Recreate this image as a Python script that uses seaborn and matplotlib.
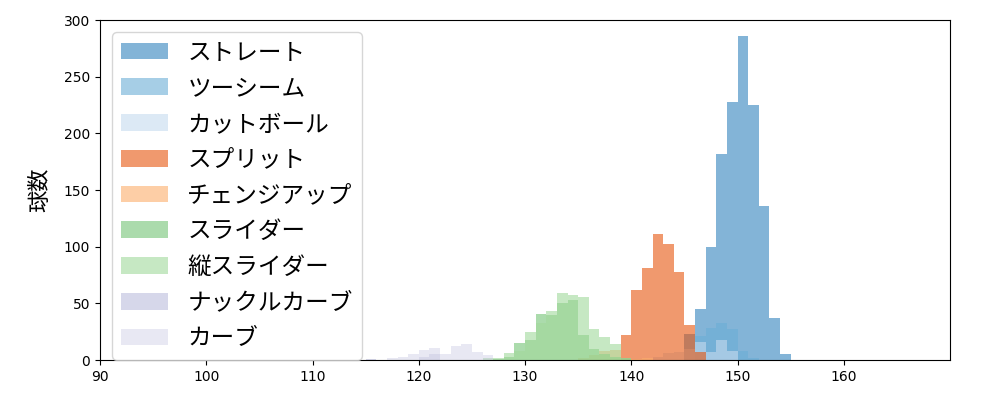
import numpy as np
import pandas as pd
import matplotlib
matplotlib.use("Agg")
import matplotlib.pyplot as plt
import seaborn as sns
from matplotlib.patches import Patch

# ---- data (bin start km/h -> count, bins are 1 km/h wide) ----
pitch_names = ["ストレート", "ツーシーム", "カットボール", "スプリット", "チェンジアップ",
               "スライダー", "縦スライダー", "ナックルカーブ", "カーブ"]
pitch_colors = ["#3182bd", "#6baed6", "#c6dbef", "#e6550d", "#fdae6b",
                "#74c476", "#a1d99b", "#bcbddc", "#dadaeb"]

straight_speed = [145, 146, 147, 148, 149, 150, 151, 152, 153, 154]
straight_count = [23, 45, 100, 182, 228, 286, 225, 136, 37, 5]

twoseam_speed = [146, 147, 148, 149, 150, 151]
twoseam_count = [21, 28, 33, 27, 8, 2]

cutter_speed = [142, 143, 144, 145, 146, 147, 148, 149]
cutter_count = [3, 6, 7, 10, 16, 7, 18, 8]

split_speed = [139, 140, 141, 142, 143, 144, 145, 146]
split_count = [22, 62, 81, 111, 102, 78, 31, 7]

change_speed = [135, 136, 137, 138, 139, 140, 141]
change_count = [2, 4, 8, 9, 1, 1, 2]

slider_speed = [126, 127, 128, 129, 130, 131, 132, 133, 134, 135, 136, 137, 138, 139]
slider_count = [2, 1, 3, 15, 18, 41, 40, 50, 53, 22, 10, 5, 3, 2]

vslider_speed = [127, 128, 129, 130, 131, 132, 133, 134, 135, 136, 137, 138, 139]
vslider_count = [2, 6, 8, 25, 33, 43, 59, 57, 56, 27, 20, 14, 2]

kcurve_speed = [115, 120, 121]
kcurve_count = [1, 3, 5]

curve_speed = [117, 118, 119, 120, 121, 122, 123, 124, 125, 126]
curve_count = [2, 3, 5, 9, 11, 5, 12, 14, 7, 4]

series = [
    (straight_speed, straight_count),
    (twoseam_speed, twoseam_count),
    (cutter_speed, cutter_count),
    (split_speed, split_count),
    (change_speed, change_count),
    (slider_speed, slider_count),
    (vslider_speed, vslider_count),
    (kcurve_speed, kcurve_count),
    (curve_speed, curve_count),
]

plt.rcParams['font.family'] = ['DejaVu Sans', 'Noto Sans CJK JP']
JP = ['Noto Sans CJK JP', 'DejaVu Sans']

fig = plt.figure(figsize=(10, 4), dpi=100)
ax = fig.add_axes([0.1, 0.1, 0.85, 0.85])

for (spd, cnt), name, col in zip(series, pitch_names, pitch_colors):
    df = pd.DataFrame({"speed": np.array(spd, dtype=float) + 0.5,
                       "count": np.array(cnt, dtype=float)})
    sns.histplot(data=df, x="speed", weights="count", binwidth=1,
                 binrange=(min(spd), max(spd) + 1), color=col,
                 alpha=0.6, linewidth=0, ax=ax)

ax.set_xlim(90, 170)
ax.set_ylim(0, 300)
ax.set_xticks(range(90, 170, 10))
ax.set_yticks(range(0, 301, 50))
ax.set_xlabel("")
ax.set_ylabel("球数", fontsize=16, family=JP, labelpad=9)
ax.tick_params(labelsize=10)

handles = [Patch(facecolor=c, alpha=0.6, linewidth=0) for c in pitch_colors]
ax.legend(handles, pitch_names, loc="upper left", labelspacing=0.54,
          prop={'family': JP, 'size': 17})

fig.savefig("out.png", dpi=100)
